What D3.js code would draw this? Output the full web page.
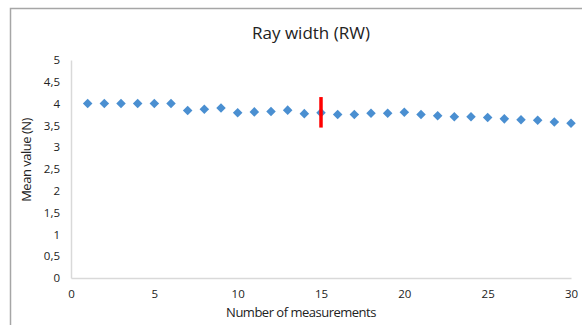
<!DOCTYPE html>
<html>
<head>
<meta charset="utf-8">
<script src="https://cdn.jsdelivr.net/npm/d3@7"></script>
<style>
	body { margin: 0; background: #fff; }
	text { font-family: 'Open Sans', sans-serif; fill: #222; }
</style>
</head>
<body>
<div id="chart"></div>
<script>
// Measurement number and mean value (N)
let measurements = d3.range(1, 31);
let meanValues = [4.00, 4.00, 4.00, 4.00, 4.00, 4.00, 3.84, 3.87, 3.90, 3.79,
	3.81, 3.82, 3.85, 3.77, 3.79, 3.75, 3.75, 3.78, 3.78, 3.80,
	3.75, 3.72, 3.70, 3.70, 3.68, 3.65, 3.63, 3.62, 3.58, 3.55];
// error bar shown only on measurement 15
let errorPoint = 15;
let errorLow = 3.45;
let errorHigh = 4.15;

let xTicks = [0, 5, 10, 15, 20, 25, 30];
let yTicks = [0, 0.5, 1, 1.5, 2, 2.5, 3, 3.5, 4, 4.5, 5];

let width = 582;
let height = 325;

let svg = d3.select('#chart')
		.append('svg')
		.attr('width', width)
		.attr('height', height);

// chart frame (only top and left edges are visible)
svg.append('path')
		.attr('d', 'M10.5,' + height + 'V8.5H' + width)
		.attr('fill', 'none')
		.attr('stroke', '#a6a6a6')
		.attr('stroke-width', 1.5);

let xScale = d3.scaleLinear().domain([0, 30]).range([71, 571]);
let yScale = d3.scaleLinear().domain([0, 5]).range([278, 60]);

let fmt = d => String(d).replace('.', ',');

// Axes
let xAxis = svg.append('g')
		.attr('transform', `translate(0, ${yScale(0)})`)
		.call(d3.axisBottom(xScale).tickValues(xTicks).tickSize(0).tickPadding(12).tickFormat(fmt));
let yAxis = svg.append('g')
		.attr('transform', `translate(${xScale(0)}, 0)`)
		.call(d3.axisLeft(yScale).tickValues(yTicks).tickSize(0).tickPadding(11).tickFormat(fmt));

[xAxis, yAxis].forEach(a => {
	a.select('.domain').attr('stroke', '#d9d9d9').attr('stroke-width', 1.5);
	a.selectAll('text').style('font-size', '11.5px').attr('fill', '#222');
});

// Points
let diamond = d3.symbol().type(d3.symbolDiamond2).size(58);
svg.append('g')
		.selectAll('path')
		.data(measurements)
		.enter()
		.append('path')
		.attr('d', diamond)
		.attr('transform', (d, i) => `translate(${xScale(d)}, ${yScale(meanValues[i])})`)
		.attr('fill', '#4a8fd1');

// Error bar
svg.append('line')
		.attr('x1', xScale(errorPoint))
		.attr('x2', xScale(errorPoint))
		.attr('y1', yScale(errorLow))
		.attr('y2', yScale(errorHigh))
		.attr('stroke', '#ff0000')
		.attr('stroke-width', 3.5);

// Title and axis labels
svg.append('text')
		.attr('x', 311)
		.attr('y', 39)
		.attr('text-anchor', 'middle')
		.style('font-size', '17px')
		.text('Ray width (RW)');

svg.append('text')
		.attr('x', 301)
		.attr('y', 317)
		.attr('text-anchor', 'middle')
		.style('font-size', '13px')
		.style('letter-spacing', '-0.5px')
		.text('Number of measurements');

svg.append('text')
		.attr('transform', 'translate(31, 160) rotate(-90)')
		.attr('text-anchor', 'middle')
		.style('font-size', '13px')
		.style('letter-spacing', '-0.5px')
		.text('Mean value (N)');
</script>
</body>
</html>
